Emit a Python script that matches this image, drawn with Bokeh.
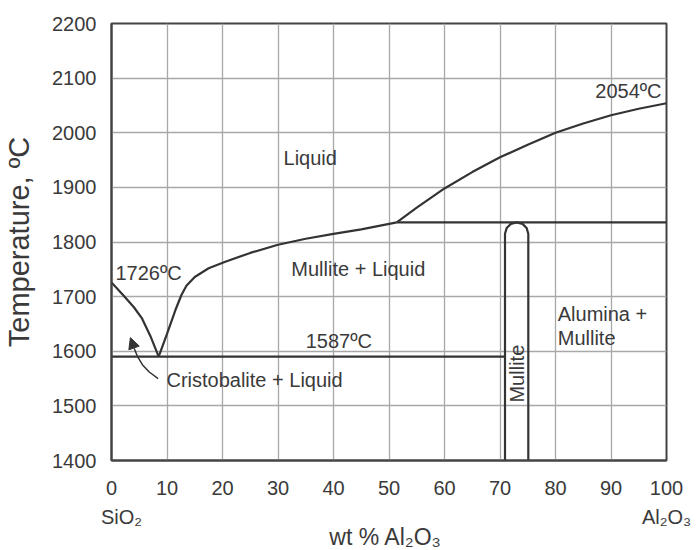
import math
from bokeh.plotting import figure
from bokeh.models import Label, Arrow, NormalHead, FixedTicker, LinearAxis, CustomJSTickFormatter
from bokeh.embed import file_html
from bokeh.resources import INLINE

# ---- data ----
x_ticks = [0, 10, 20, 30, 40, 50, 60, 70, 80, 90, 100]
y_ticks = [1400, 1500, 1600, 1700, 1800, 1900, 2000, 2100, 2200]
end_ticks = [1.8, 100]
end_labels = ["SiO₂", "Al₂O₃"]

liq_left_x = [0, 2, 4, 5.5, 7, 8.5]
liq_left_y = [1726, 1704, 1681, 1660, 1628, 1590]

liq_mid_x = [8.5, 10, 11.5, 12.6, 13.5, 15, 17.5, 20.5, 25, 30, 35, 40, 45, 51.4]
liq_mid_y = [1590, 1632, 1675, 1703, 1720, 1736, 1752, 1764, 1780, 1795, 1806, 1815, 1823, 1836]

liq_up_x = [51.4, 55, 60, 65, 70, 75, 80, 85, 90, 95, 100]
liq_up_y = [1836, 1863, 1898, 1928, 1955, 1978, 2000, 2017, 2032, 2044, 2054]

solidus_x = [51.4, 100]
solidus_y = [1836, 1836]

eutectic_x = [0, 70.9]
eutectic_y = [1590, 1590]

mullite_x = [70.9, 70.9, 71.2, 71.95, 73, 74.05, 74.8, 75.1, 75.1]
mullite_y = [1400, 1815, 1825.5, 1833.2, 1836, 1833.2, 1825.5, 1815, 1400]

arrow_x = [8.4, 6.8, 5.6, 4.7, 4.1]
arrow_y = [1550, 1562, 1575, 1590, 1605]
arrow_tip = (3.4, 1625)

TXT = "#3a3a3a"
LINE = "#333333"
FONT = "Liberation Sans"

p = figure(frame_width=555, frame_height=437, x_range=(0, 100), y_range=(1400, 2200),
           output_backend="svg", toolbar_location=None,
           min_border_left=107, min_border_right=28, min_border_top=23, min_border_bottom=60)
p.outline_line_color = "#444444"
p.outline_line_width = 2
p.background_fill_color = "white"

for ax in (p.xaxis[0], p.yaxis[0]):
    ax.axis_line_color = "#444444"
    ax.axis_line_width = 2
    ax.major_tick_line_color = None
    ax.minor_tick_line_color = None
    ax.major_label_text_font = FONT
    ax.major_label_text_font_size = "20px"
    ax.major_label_text_color = TXT
p.xaxis.ticker = FixedTicker(ticks=x_ticks)
p.yaxis.ticker = FixedTicker(ticks=y_ticks)
p.xaxis.major_label_standoff = 14
p.yaxis.major_label_standoff = 9
p.yaxis.axis_label = "Temperature, ºC"
p.yaxis.axis_label_text_font = FONT
p.yaxis.axis_label_text_font_size = "29px"
p.yaxis.axis_label_text_font_style = "normal"
p.yaxis.axis_label_text_color = TXT
p.yaxis.axis_label_standoff = 14

# second bottom axis: end-member names and the composition title
ax2 = LinearAxis(ticker=FixedTicker(ticks=end_ticks),
                 formatter=CustomJSTickFormatter(args=dict(labels=end_labels),
                                                 code="return tick < 50 ? labels[0] : labels[1];"),
                 axis_line_color=None, major_tick_line_color=None, minor_tick_line_color=None,
                 major_label_text_font=FONT, major_label_text_font_size="20px",
                 major_label_text_color=TXT, major_label_standoff=2,
                 axis_label="wt %  Al₂O₃", axis_label_text_font=FONT,
                 axis_label_text_font_size="23px", axis_label_text_font_style="normal",
                 axis_label_text_color=TXT, axis_label_standoff=-7)
p.add_layout(ax2, "below")

p.xgrid.ticker = FixedTicker(ticks=x_ticks)
p.ygrid.ticker = FixedTicker(ticks=y_ticks)
p.grid.grid_line_color = "#a8a8a8"
p.grid.grid_line_width = 1.3

for xs, ys in [(liq_left_x, liq_left_y), (liq_mid_x, liq_mid_y), (liq_up_x, liq_up_y),
               (solidus_x, solidus_y), (eutectic_x, eutectic_y), (mullite_x, mullite_y)]:
    p.line(xs, ys, line_color=LINE, line_width=2.2)

p.line(arrow_x, arrow_y, line_color=LINE, line_width=1.5)
p.add_layout(Arrow(end=NormalHead(size=11, fill_color=LINE, line_color=LINE),
                   x_start=arrow_x[-1], y_start=arrow_y[-1], x_end=arrow_tip[0], y_end=arrow_tip[1],
                   line_color=LINE, line_width=1.5))


def lab(x, y, text, align="left", baseline="middle", size=20, angle=0.0):
    p.add_layout(Label(x=x, y=y, text=text, text_align=align, text_baseline=baseline,
                       text_font=FONT, text_font_size=f"{size}px", text_color=TXT,
                       angle=angle))


lab(31.0, 1953, "Liquid")
lab(99.1, 2077, "2054ºC", align="right")
lab(32.4, 1750, "Mullite + Liquid")
lab(0.7, 1744, "1726ºC")
lab(35.0, 1618, "1587ºC")
lab(9.9, 1548, "Cristobalite + Liquid")
lab(80.4, 1669, "Alumina +")
lab(80.4, 1625, "Mullite")
lab(73.0, 1559, "Mullite", align="center", angle=math.pi / 2)

open("out.html", "w").write(file_html(p, INLINE))
